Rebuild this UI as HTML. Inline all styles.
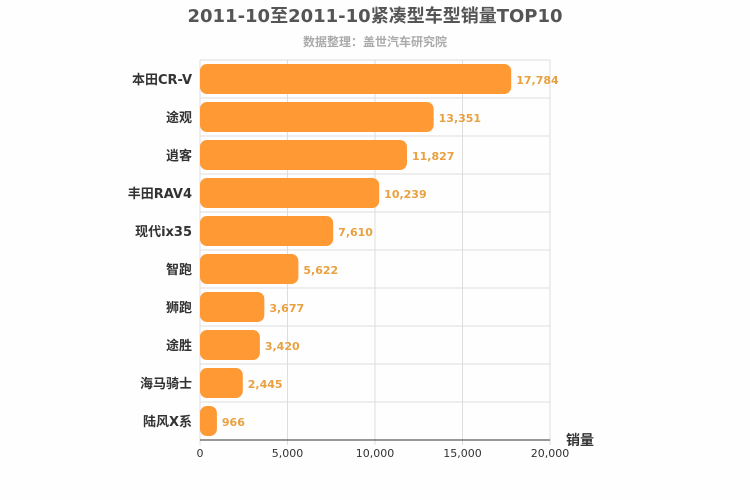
<!DOCTYPE html>
<html><head><meta charset="utf-8"><style>
body{margin:0;background:#fefefe;}
svg{display:block;font-family:"DejaVu Sans","Noto Sans CJK SC",sans-serif;}
</style></head><body>
<svg id="c" width="750" height="500">
<rect width="750" height="500" fill="#fefefe"/>
<text x="375" y="22" text-anchor="middle" font-size="18" font-weight="bold" fill="#555">2011-10至2011-10紧凑型车型销量TOP10</text>
<text x="375" y="46" text-anchor="middle" font-size="12" font-weight="bold" fill="#aaa">数据整理：盖世汽车研究院</text>
<g id="plot"></g>
</svg>
<script>
const categories=["本田CR-V","途观","逍客","丰田RAV4","现代ix35","智跑","狮跑","途胜","海马骑士","陆风X系"];
const values=[17784,13351,11827,10239,7610,5622,3677,3420,2445,966];
const ticks=[0,5000,10000,15000,20000];
const tickLabels=["0","5,000","10,000","15,000","20,000"];
const X0=200,X1=550,Y0=60,Y1=440,MAX=20000;
const ns="http://www.w3.org/2000/svg";
const g=document.getElementById('plot');
const xs=v=>X0+(v/MAX)*(X1-X0);
const band=(Y1-Y0)/categories.length;
const yb=i=>Y0+i*band;
function mk(t,a){const e=document.createElementNS(ns,t);for(const k in a)e.setAttribute(k,a[k]);g.appendChild(e);return e;}
for(let i=0;i<=categories.length;i++){
  const l=mk('line',{x1:X0,x2:X1,y1:yb(i),y2:yb(i),stroke:'#ddd','stroke-width':1});
  
  
}
ticks.forEach((t,i)=>{
  const l=mk('line',{x1:xs(t),x2:xs(t),y1:Y0,y2:Y1+5,stroke:'#ddd','stroke-width':1});
  
  
  const tx=mk('text',{x:xs(t),y:Y1+17,'text-anchor':'middle','font-size':11,fill:'#333'});
  tx.textContent=tickLabels[i];
  
  
});
const ax=mk('line',{x1:X0,x2:X1,y1:Y1,y2:Y1,stroke:'#333','stroke-width':1});


categories.forEach((c,i)=>{
  const y=yb(i)+4,h=band-8;
  const r=mk('rect',{x:X0,y:y,width:xs(values[i])-X0,height:h,rx:7,ry:7,fill:'#ff9933'});
  
  
  const lb=mk('text',{x:192,y:yb(i)+band/2+5,'text-anchor':'end','font-size':13,'font-weight':'bold',fill:'#333'});
  lb.textContent=c;
  
  
  const vl=mk('text',{x:xs(values[i])+5,y:yb(i)+band/2+5,'font-size':11,'font-weight':'bold',fill:'#e8a040'});
  vl.textContent=values[i].toLocaleString('en-US');
  
  
});
const at=mk('text',{x:580,y:445,'text-anchor':'middle','font-size':14,'font-weight':'bold',fill:'#333'});
at.textContent='销量';


</script>
</body></html>
